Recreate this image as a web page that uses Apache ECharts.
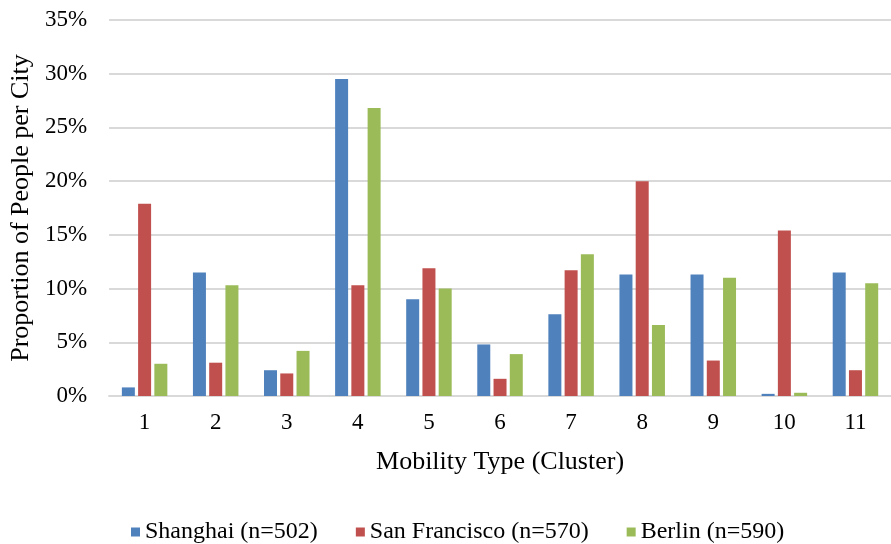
<!DOCTYPE html>
<html>
<head>
<meta charset="utf-8">
<script src="https://cdn.jsdelivr.net/npm/echarts@6/dist/echarts.min.js"></script>
<style>
  html, body { margin: 0; padding: 0; background: #fff; }
  #chart { width: 891px; height: 544px; }
</style>
</head>
<body>
<div id="chart"></div>
<script>
// Mobility clusters and share of respondents (%) per city
const clusters = ['1', '2', '3', '4', '5', '6', '7', '8', '9', '10', '11'];
const shanghai = [0.8, 11.5, 2.4, 29.5, 9.0, 4.8, 7.6, 11.3, 11.3, 0.2, 11.5];
const sanFrancisco = [17.9, 3.1, 2.1, 10.3, 11.9, 1.6, 11.7, 20.0, 3.3, 15.4, 2.4];
const berlin = [3.0, 10.3, 4.2, 26.8, 10.0, 3.9, 13.2, 6.6, 11.0, 0.3, 10.5];
const seriesNames = ['Shanghai (n=502)', 'San Francisco (n=570)', 'Berlin (n=590)'];
const yTicks = [0, 5, 10, 15, 20, 25, 30, 35];

const font = '"Liberation Serif", "Times New Roman", serif';
const colors = ['#4F81BD', '#C0504D', '#9BBB59'];

const chart = echarts.init(document.getElementById('chart'), null, { renderer: 'canvas' });

function barSeries(name, data, color) {
  return {
    name: name,
    type: 'bar',
    data: data,
    barWidth: 13,
    barGap: '25%',
    itemStyle: { color: color },
    emphasis: { disabled: true }
  };
}

chart.setOption({
  animation: false,
  color: colors,
  grid: { left: 107, top: 20, width: 796, height: 376, containLabel: false },
  legend: {
    data: seriesNames,
    left: 126,
    top: 515,
    icon: 'rect',
    itemWidth: 9,
    itemHeight: 9,
    itemGap: 38,
    textStyle: { fontFamily: font, fontSize: 24, color: '#000' }
  },
  xAxis: {
    type: 'category',
    data: clusters,
    name: 'Mobility Type (Cluster)',
    nameLocation: 'middle',
    nameGap: 53,
    nameTextStyle: { fontFamily: font, fontSize: 26, color: '#000' },
    axisLine: { lineStyle: { color: '#D9D9D9', width: 2 } },
    axisTick: { show: false },
    axisLabel: { fontFamily: font, fontSize: 23, color: '#000', margin: 15 }
  },
  yAxis: {
    type: 'value',
    min: yTicks[0],
    max: yTicks[yTicks.length - 1],
    interval: 5,
    name: 'Proportion of People per City',
    nameLocation: 'middle',
    nameGap: 75,
    nameTextStyle: { fontFamily: font, fontSize: 26, color: '#000' },
    axisLine: { show: false },
    axisTick: { show: false },
    splitLine: { lineStyle: { color: '#D9D9D9', width: 2 } },
    axisLabel: {
      fontFamily: font, fontSize: 23, color: '#000', margin: 22,
      formatter: v => v + '%'
    }
  },
  series: [
    barSeries(seriesNames[0], shanghai, colors[0]),
    barSeries(seriesNames[1], sanFrancisco, colors[1]),
    barSeries(seriesNames[2], berlin, colors[2])
  ]
});
</script>
</body>
</html>
